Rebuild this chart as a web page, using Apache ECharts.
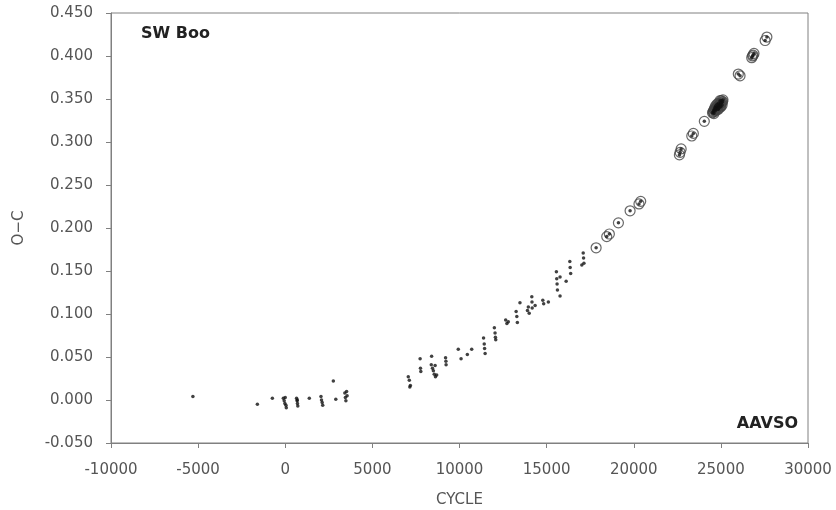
<!DOCTYPE html>
<html>
<head>
<meta charset="utf-8">
<title>SW Boo O−C diagram</title>
<script src="https://cdn.jsdelivr.net/npm/echarts@6/dist/echarts.min.js"></script>
<style>
  html, body { margin: 0; padding: 0; background: #fff; }
  #chart { width: 836px; height: 510px; }
</style>
</head>
<body>
<div id="chart"></div>
<script>
// Timings from older photographic / visual sources: [cycle, O−C in days]
const visualTimings = [
  [-5300, 0.004],
  [-1600, -0.005],
  [-740, 0.002],
  [-110, 0.002], [-60, -0.001], [-20, -0.004], [0, 0.003], [40, -0.006], [60, -0.009],
  [650, 0.002], [680, -0.001], [690, 0.000], [700, -0.004], [720, -0.007],
  [1380, 0.002],
  [2050, 0.004], [2080, 0.000], [2120, -0.003], [2150, -0.006],
  [2760, 0.022],
  [2900, 0.001],
  [3420, 0.008], [3450, 0.003], [3480, -0.001], [3520, 0.010], [3550, 0.005],
  [7060, 0.027], [7120, 0.023], [7150, 0.015], [7180, 0.017],
  [7740, 0.048], [7760, 0.037], [7780, 0.033],
  [8400, 0.051], [8380, 0.041], [8450, 0.037], [8500, 0.034], [8550, 0.030],
  [8600, 0.040], [8620, 0.027], [8690, 0.029],
  [9200, 0.049], [9220, 0.045], [9230, 0.041],
  [9930, 0.059], [10090, 0.048], [10450, 0.053], [10700, 0.059],
  [11380, 0.072], [11420, 0.065], [11440, 0.060], [11470, 0.054],
  [12000, 0.084], [12040, 0.078], [12060, 0.073], [12080, 0.070],
  [12650, 0.093], [12720, 0.089], [12800, 0.091],
  [13250, 0.103], [13290, 0.097], [13320, 0.090], [13470, 0.113],
  [13900, 0.104], [13950, 0.108], [14000, 0.101],
  [14150, 0.120], [14160, 0.114], [14170, 0.107], [14340, 0.110],
  [14780, 0.116], [14830, 0.112], [15100, 0.114],
  [15560, 0.149], [15580, 0.141], [15600, 0.135], [15620, 0.128],
  [15770, 0.143], [15770, 0.121],
  [16120, 0.138], [16330, 0.161], [16350, 0.154], [16380, 0.147],
  [17020, 0.157], [17100, 0.171], [17120, 0.165], [17140, 0.159]
];

// Recent CCD / AAVSO timings, drawn as ringed points: [cycle, O−C in days]
const ccdTimings = [
  [17840, 0.177], [18450, 0.190], [18600, 0.193], [19120, 0.206],
  [19790, 0.220], [20300, 0.228], [20400, 0.231],
  [22620, 0.285], [22660, 0.288], [22720, 0.292],
  [23330, 0.307], [23420, 0.310],
  [24050, 0.324],
  [24520, 0.334], [24560, 0.335], [24580, 0.336], [24600, 0.333],
  [24620, 0.338], [24640, 0.337], [24660, 0.340], [24680, 0.336],
  [24700, 0.338], [24700, 0.342], [24730, 0.339], [24760, 0.340],
  [24780, 0.344], [24800, 0.341], [24820, 0.338], [24850, 0.342],
  [24850, 0.338], [24870, 0.345], [24900, 0.343], [24920, 0.340],
  [24950, 0.344], [24950, 0.348], [24980, 0.342], [25000, 0.345],
  [25000, 0.341], [25020, 0.348], [25050, 0.346], [25070, 0.343],
  [25100, 0.347], [25120, 0.349],
  [26000, 0.379], [26100, 0.377],
  [26770, 0.398], [26820, 0.400], [26850, 0.401], [26900, 0.403],
  [27540, 0.418], [27640, 0.422]
];

const starName = 'SW Boo';
const sourceName = 'AAVSO';
const xAxisTitle = 'CYCLE';
const yAxisTitle = 'O−C';

const axisFont = { fontFamily: 'DejaVu Sans', fontSize: 15, color: '#555' };
const frameColor = '#808080';

const chart = echarts.init(document.getElementById('chart'), null, { renderer: 'canvas' });

chart.setOption({
  backgroundColor: '#fff',
  animation: false,
  grid: {
    left: 111, right: 28, top: 13, bottom: 67,
    outerBoundsMode: 'none',
    show: true, borderColor: frameColor, borderWidth: 1, backgroundColor: 'transparent'
  },
  xAxis: {
    type: 'value',
    min: -10000, max: 30000, interval: 5000,
    name: xAxisTitle, nameLocation: 'middle', nameGap: 50,
    nameTextStyle: axisFont,
    axisLine: { show: true, onZero: false, lineStyle: { color: frameColor, width: 1 } },
    axisTick: { show: true, length: 5, lineStyle: { color: frameColor } },
    axisLabel: Object.assign({ margin: 20, formatter: v => (v < 0 ? '-' + Math.abs(v) : String(v)) }, axisFont),
    splitLine: { show: false }
  },
  yAxis: {
    type: 'value',
    min: -0.05, max: 0.45, interval: 0.05,
    name: yAxisTitle, nameLocation: 'middle', nameGap: 84, nameRotate: 90,
    nameTextStyle: axisFont,
    axisLine: { show: true, onZero: false, lineStyle: { color: frameColor, width: 1 } },
    axisTick: { show: true, length: 5, lineStyle: { color: frameColor } },
    axisLabel: Object.assign({
      margin: 18,
      formatter: v => (v < -1e-9 ? '-' + Math.abs(v).toFixed(3) : Math.abs(v).toFixed(3))
    }, axisFont),
    splitLine: { show: false }
  },
  graphic: [
    {
      type: 'text', left: 141, top: 26,
      style: { text: starName, font: 'bold 16px "DejaVu Sans"', fill: '#222' }
    },
    {
      type: 'text', right: 38, top: 416,
      style: { text: sourceName, font: 'bold 16px "DejaVu Sans"', fill: '#222' }
    }
  ],
  series: [
    {
      name: 'visual',
      type: 'scatter',
      data: visualTimings,
      symbol: 'circle',
      symbolSize: 3.5,
      itemStyle: { color: '#111' },
      silent: true
    },
    {
      name: 'ccd ring',
      type: 'scatter',
      data: ccdTimings,
      symbol: 'circle',
      symbolSize: 10,
      itemStyle: { color: 'rgba(255,255,255,0)', borderColor: '#444', borderWidth: 1.2 },
      silent: true
    },
    {
      name: 'ccd dot',
      type: 'scatter',
      data: ccdTimings,
      symbol: 'circle',
      symbolSize: 3.5,
      itemStyle: { color: '#111' },
      silent: true
    }
  ]
});
</script>
</body>
</html>
